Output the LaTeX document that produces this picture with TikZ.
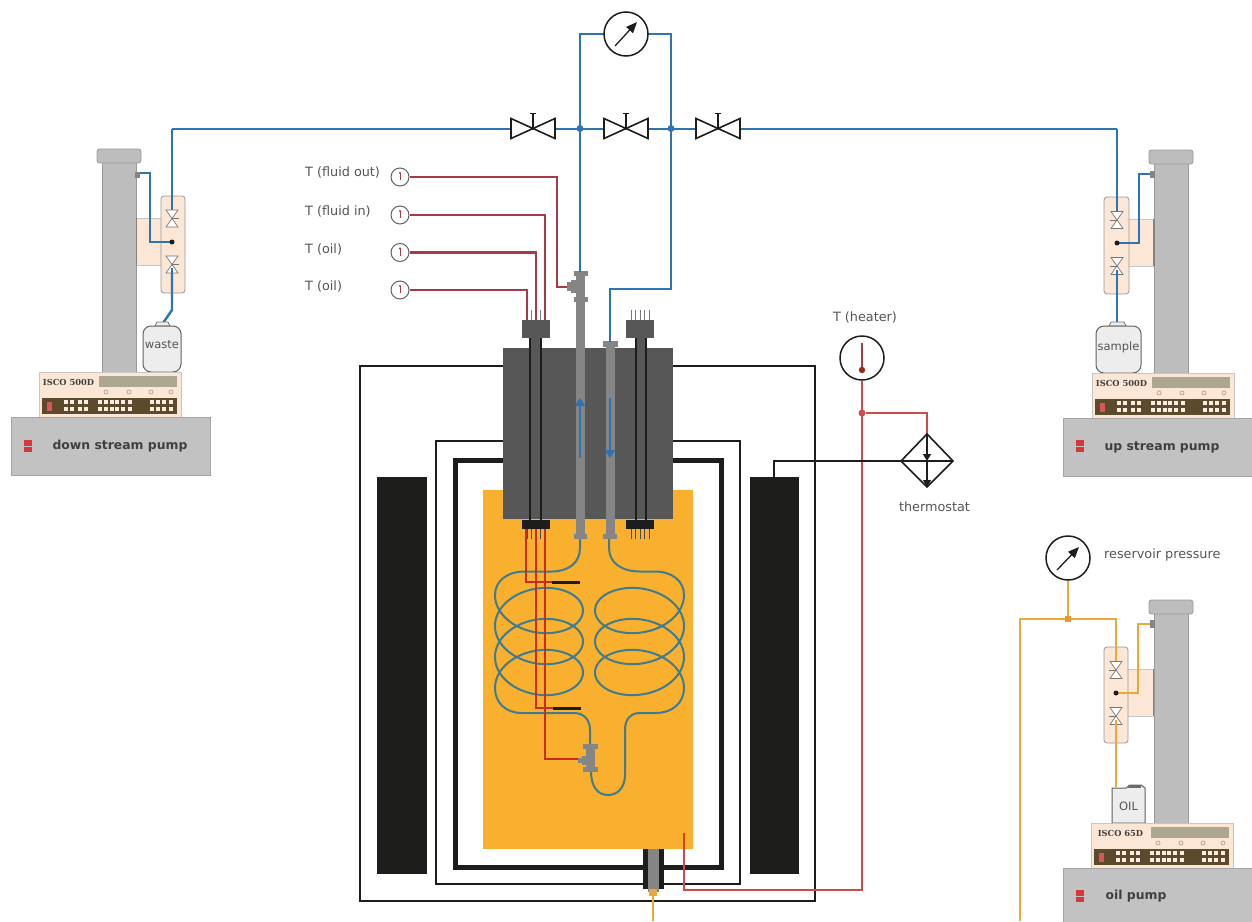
\documentclass[tikz,border=0pt]{standalone}
\usepackage{fontspec}
\setmainfont{DejaVu Sans}
\newfontfamily\iscofont{DejaVu Serif}
\usetikzlibrary{arrows.meta}
\definecolor{tubeblue}{HTML}{2F74AE}
\definecolor{coilblue}{HTML}{3F7C8F}
\definecolor{wirered}{HTML}{A83A48}
\definecolor{hotred}{HTML}{C62F20}
\definecolor{heatred}{HTML}{CF4B4B}
\definecolor{markred}{HTML}{D2383C}
\definecolor{oilfill}{HTML}{F9B02F}
\definecolor{oilline}{HTML}{E9A93A}
\definecolor{ink}{HTML}{1D1D1B}
\definecolor{blockgrey}{HTML}{575757}
\definecolor{tubegrey}{HTML}{858585}
\definecolor{basegrey}{HTML}{C2C2C2}
\definecolor{columngrey}{HTML}{BDBDBD}
\definecolor{panelfill}{HTML}{FCE6D6}
\definecolor{stripfill}{HTML}{5C4A2C}
\definecolor{displayfill}{HTML}{ADA792}
\definecolor{labelgrey}{HTML}{555555}
\tikzset{
  lbl/.style={text=labelgrey,font=\fontsize{12.8}{14}\selectfont,inner sep=0pt},
  pumplbl/.style={text=ink!85,font=\fontsize{12.4}{14}\selectfont\bfseries,inner sep=0pt},
  tanklbl/.style={inner sep=0pt,text=labelgrey,font=\fontsize{11.5}{13}\selectfont},
  bluepipe/.style={draw=tubeblue,line width=2.4pt,line join=miter},
  oilpipe/.style={draw=oilline,line width=2.4pt},
  redwire/.style={draw=wirered,line width=2.2pt},
  hotwire/.style={draw=hotred,line width=2pt},
  heatwire/.style={draw=heatred,line width=1.4pt},
  blackwire/.style={draw=ink,line width=1.6pt},
  coil/.style={draw=coilblue,line width=2pt},
  gaugering/.style={draw=ink,line width=1.5pt,fill=white,circle,minimum size=44pt,inner sep=0pt},
  sensorring/.style={draw=ink!70,line width=1pt,fill=white,circle,minimum size=18pt,inner sep=0pt},
  junction/.style={circle,fill=#1,inner sep=0pt,minimum size=7pt},
  framebox/.style={draw=ink,fill=none}
}
\newcommand{\bigvalve}[2]{%
  \coordinate (#1) at (#2);
  \begin{scope}[shift={(#2)}]
  \draw[ink,line width=1.6pt,fill=white,line join=miter] (-22,-10)--(22,10)--(22,-10)--(-22,10)--cycle;
  \draw[ink,line width=1.6pt] (0,0)--(0,-15);
  \draw[ink,line width=1.8pt] (-3,-15)--(3,-15);
  \end{scope}}
\newcommand{\smallvalve}[2]{%
  \begin{scope}[shift={(#1)}]
  \draw[labelgrey!80,line width=.7pt,fill=white] (-6,-8.5)--(6,-8.5)--(-6,8.5)--(6,8.5)--cycle;
  \draw[labelgrey!80,line width=.7pt] (0,0)--(#2*7,0);
  \end{scope}}
\newcommand{\iscopanel}[2]{%
  \begin{scope}[shift={(#1)}]
  \fill[panelfill] (0,0) rectangle (142,45);
  \draw[ink!25,line width=.7pt] (0,0) rectangle (142,45);
  \fill[displayfill] (60,4) rectangle (138,15);
  \node[inner sep=0pt,text=ink!85,font=\iscofont\fontsize{8.3}{9}\selectfont\bfseries] at (29.5,10) {#2};
  \foreach \px in {67,90,112,132}{\draw[displayfill,line width=.7pt] (\px,20) circle (2pt);}
  \fill[stripfill] (3,26) rectangle (138,42);
  \fill[markred!85] (8,30) rectangle (13,39);
  \foreach \px in {27,33,41,47,61,67,73,78,84,91,113,119,125,132}{
    \fill[panelfill!70!white] (\px-1.7,28) rectangle (\px+1.7,32);
    \fill[panelfill!70!white] (\px-1.7,35) rectangle (\px+1.7,39);}
  \end{scope}}
\newcommand{\pumpcolumn}[3]{%
  \draw[ink!45,line width=.8pt,fill=columngrey] (#1,#2+13) rectangle (#1+34,#3);
  \draw[ink!45,line width=.8pt,fill=columngrey,rounded corners=2.5pt] (#1-5,#2) rectangle (#1+39,#2+14);}
\newcommand{\redmark}[1]{\fill[markred] ([shift={(-4,-6)}]#1) rectangle ([shift={(4,-.5)}]#1);
  \fill[markred] ([shift={(-4,.5)}]#1) rectangle ([shift={(4,6)}]#1);}
\begin{document}
\begin{tikzpicture}[x=1pt,y=-1pt]
\useasboundingbox (0,0) rectangle (1252,921);
\fill[white] (0,0) rectangle (1252,921);

\coordinate (topL) at (580,34);
\coordinate (topR) at (671,34);
\coordinate (juncL) at (580,128.5);
\coordinate (juncR) at (671,128.5);
\coordinate (dsTee) at (172,129);
\coordinate (usTee) at (1117,129);

% ---------- oven ----------
\draw[framebox,line width=2.7pt] (360,366) rectangle (815,901);
\draw[framebox,line width=2.7pt] (436,441) rectangle (740,884);
\draw[framebox,line width=5pt] (455,460) rectangle (721,867);
\fill[ink] (377,477) rectangle (427,874);
\fill[ink] (750,477) rectangle (799,874);
\fill[oilfill] (483,490) rectangle (693,849);
\fill[blockgrey] (503,348) rectangle (673,519);

% bottom feed-through
\coordinate (feed) at (653,893);
\fill[ink] (643,849) rectangle (664,889);
\fill[tubegrey] (648,849) rectangle (659,892);
\fill[oilline] (649,889) rectangle (657,896);
\draw[oilpipe] (feed) -- (653,921);

% ---------- coils ----------
\coordinate (coilLa) at (580,538);
\coordinate (coilRa) at (609,538);
\coordinate (teeTop) at (590,745);
\coordinate (teeBot) at (591,771);
\draw[coil] plot[domain=0:1080,samples=181,smooth] ({539-44*cos(\x)},{595+\x/360*31+30*sin(\x)});
\draw[coil] plot[domain=0:1080,samples=181,smooth] ({639.5+44.5*cos(\x)},{595+\x/360*31+30*sin(\x)});
\draw[coil] (coilLa) -- (580,548) .. controls (580,563) and (568,571.5) .. (552,571.5) -- (525,571.5)
   .. controls (507,571.5) and (495,581) .. (495,595);
\draw[coil] (495,688) .. controls (495,703) and (506,713) .. (522,713) -- (574,713)
   .. controls (584,713) and (590,720) .. (590,730) -- (teeTop);
\draw[coil] (coilRa) -- (609,548) .. controls (609,563) and (622,571.5) .. (640,571.5) -- (655,571.5)
   .. controls (672,571.5) and (684,581) .. (684,595);
\draw[coil] (684,688) .. controls (684,703) and (672,713) .. (656,713) -- (640,713)
   .. controls (630,713) and (625,720) .. (625,730) -- (625,775)
   .. controls (625,787) and (618,795) .. (608,795)
   .. controls (598,795) and (591,787) .. (teeBot);

% ---------- block fittings ----------
\fill[blockgrey] (522,320) rectangle (550,338);
\fill[blockgrey] (626,320) rectangle (654,338);
\fill[blockgrey] (530,338) rectangle (541,348);
\fill[blockgrey] (636,338) rectangle (646,348);
\foreach \sx in {530,541,636,646}{\draw[ink,line width=1.6pt] (\sx,338) -- (\sx,520);}
\fill[ink] (522,520) rectangle (550,529);
\fill[ink] (626,520) rectangle (654,529);
\foreach \px in {527,531.5,536,540.5,545}{\draw[ink!80,line width=1pt] (\px,529) -- (\px,539);\draw[blockgrey!80,line width=1pt] (\px,310) -- (\px,320);}
\foreach \px in {631,635.5,640,644.5,649}{\draw[ink!80,line width=1pt] (\px,529) -- (\px,539);\draw[blockgrey!80,line width=1pt] (\px,310) -- (\px,320);}

% ---------- grey tubes ----------
\fill[tubegrey] (576,272) rectangle (585,537);
\fill[tubegrey] (574,271) rectangle (588,276);
\fill[tubegrey] (574,297) rectangle (588,302);
\fill[tubegrey] (571,280) rectangle (577,293);
\fill[tubegrey] (567,282) rectangle (573,291);
\fill[tubegrey] (574,534) rectangle (587,539);
\fill[tubegrey] (606,342) rectangle (615,537);
\fill[tubegrey] (603,341) rectangle (618,347);
\fill[tubegrey] (603,534) rectangle (617,539);
\fill[tubegrey] (586,744) rectangle (595,771);
\fill[tubegrey] (583,744) rectangle (598,749);
\fill[tubegrey] (583,767) rectangle (598,772);
\fill[tubegrey] (582,756) rectangle (588,765);
\fill[tubegrey] (578,758) rectangle (584,763);
\draw[-{Triangle[width=10pt,length=8pt]},draw=tubeblue,line width=2.8pt] (580,458) -- (580,398);
\draw[-{Triangle[width=10pt,length=8pt]},draw=tubeblue,line width=2.8pt] (610,398) -- (610,458);

% ---------- thermocouple wires ----------
\draw[hotwire] (526,529) -- (526,582) -- (553,582);
\draw[hotwire] (536,529) -- (536,708) -- (554,708);
\draw[hotwire] (545,529) -- (545,759) -- (578,759);
\draw[ink,line width=3pt] (552,582.5) -- (580,582.5);
\draw[ink,line width=3pt] (553,708) -- (581,708);

% ---------- top pipe work ----------
\draw[bluepipe] (dsTee) -- (usTee);
\draw[bluepipe] (580,272) -- (topL) -- (604,34);
\draw[bluepipe] (648,34) -- (topR) -- (671,289) -- (610,289) -- (610,342);
\node[junction=tubeblue] (jL) at (juncL) {};
\node[junction=tubeblue] (jR) at (juncR) {};
\bigvalve{vA}{533,128.5}
\bigvalve{vB}{626,128.5}
\bigvalve{vC}{718,128.5}
\node[gaugering] (dp) at (626,34) {};
\draw[ink,line width=1.3pt,-{Triangle[width=9pt,length=11pt]}] (615,46) -- (637,22);

% ---------- sensors ----------
\node[sensorring] (s1) at (400,177) {};
\node[sensorring] (s2) at (400,215) {};
\node[sensorring] (s3) at (400,252.5) {};
\node[sensorring] (s4) at (400,290) {};
\foreach \sn in {s1,s2,s3,s4}{
  \draw[wirered,line width=.9pt] ([yshift=-3pt]\sn.center) -- ([yshift=4pt]\sn.center);
  \fill[wirered] ([yshift=4pt]\sn.center) circle (1.2pt);}
\coordinate (p1) at (567,287);
\coordinate (p2) at (545,320);
\coordinate (p3) at (536,320);
\coordinate (p4) at (527,320);
\draw[redwire] (s1) -- (557,177) -- (557,287) -- (p1);
\draw[redwire] (s2) -- (545,215) -- (p2);
\draw[redwire] (s3) -- (536,252.5) -- (p3);
\draw[redwire] (s4) -- (527,290) -- (p4);
\node[lbl,anchor=west] (l1) at (305,172.5) {T (fluid out)};
\node[lbl,anchor=west] (l2) at (305,211.5) {T (fluid in)};
\node[lbl,anchor=west] (l3) at (305,249.5) {T (oil)};
\node[lbl,anchor=west] (l4) at (305,286.5) {T (oil)};

% ---------- heater loop ----------
\node[gaugering] (theat) at (862,358) {};
\draw[wirered,line width=1.3pt] (862,343) -- (862,370);
\fill[hotred!80!black] (862,370) circle (3.2pt);
\coordinate (hot) at (684,833);
\node[junction=heatred] (jH) at (862,413) {};
\coordinate (thTop) at (927,434);
\coordinate (thBot) at (927,487);
\coordinate (thR) at (953,461);
\coordinate (thL) at (901,461);
\coordinate (hA) at (774,477);
\draw[draw=hotred!85!oilfill,line width=1.4pt] (hot) -- (684,849);
\draw[heatwire] (684,849) -- (684,890) -- (862,890) -- (theat);
\draw[heatwire] (jH) -- (927,413) -- (thTop);
\draw[blackwire] (hA) -- (774,461) -- (thR);
\draw[ink,line width=1.6pt,line join=miter] (thTop) -- (thR) -- (thBot) -- (thL) -- cycle;
\draw[ink,line width=1.4pt,-{Triangle[width=8pt,length=7pt]}] (thTop) -- (927,461);
\draw[ink,line width=1.4pt,-{Triangle[width=8pt,length=7pt]}] (927,461) -- (thBot);
\node[lbl,anchor=center] (lh) at (865,317.5) {T (heater)};
\node[lbl,anchor=center] (lt) at (934.5,507) {thermostat};

% ---------- down stream pump ----------
\fill[panelfill] (136,218) rectangle (161,265);
\draw[ink!25,line width=.6pt] (136,218) -- (161,218) (136,265) -- (161,265);
\pumpcolumn{102}{149}{372}
\draw[ink!55,line width=1.2pt] (136.5,218) -- (136.5,265);
\fill[tubegrey] (135,172) rectangle (140,178);
\draw[ink!45,line width=.8pt,fill=panelfill,rounded corners=3pt] (161,196) rectangle (185,293);
\coordinate (dA) at (172,242);
\coordinate (dB) at (140,173);
\coordinate (dC) at (172,270);
\coordinate (dD) at (163,323);
\draw[bluepipe] (dsTee) -- (172,212);
\draw[bluepipe] (dB) -- (150,173) -- (150,242) -- (dA);
\draw[bluepipe] (dC) -- (172,310) -- (dD);
\smallvalve{172,218.5}{1}
\smallvalve{172,264.5}{1}
\draw[bluepipe] (172,268) -- (172,279);
\fill[ink] (dA) circle (2.5pt);
\draw[ink!60,line width=.8pt,fill=ink!8] (155,326) -- (157,322) -- (168,322) -- (170,326) -- cycle;
\draw[ink!70,line width=1pt,fill=ink!8,rounded corners=8pt] (143,326) rectangle (181,372);
\node[tanklbl] (wasteL) at (162,345) {waste};
\iscopanel{39,372}{ISCO 500D}
\draw[ink!40,line width=.8pt,fill=basegrey] (11,417) rectangle (210,475);
\redmark{28,446}
\node[pumplbl] (dsL) at (120,446.5) {down stream pump};

% ---------- up stream pump ----------
\fill[panelfill] (1129,219) rectangle (1154,266);
\draw[ink!25,line width=.6pt] (1129,219) -- (1154,219) (1129,266) -- (1154,266);
\pumpcolumn{1154}{150}{373}
\draw[ink!55,line width=1.2pt] (1154,219) -- (1154,266);
\fill[tubegrey] (1150,171) rectangle (1155,178);
\draw[ink!45,line width=.8pt,fill=panelfill,rounded corners=3pt] (1104,197) rectangle (1129,294);
\coordinate (uA) at (1117,243);
\coordinate (uB) at (1150,174);
\coordinate (uC) at (1117,326);
\draw[bluepipe] (usTee) -- (1117,212);
\draw[bluepipe] (uB) -- (1139,174) -- (1139,243) -- (uA);
\draw[bluepipe] (1117,272) -- (uC);
\smallvalve{1117,220}{-1}
\smallvalve{1117,266}{-1}
\draw[bluepipe] (1117,270) -- (1117,280);
\fill[ink] (uA) circle (2.5pt);
\draw[ink!60,line width=.8pt,fill=ink!8] (1109,326) -- (1111,322) -- (1124,322) -- (1126,326) -- cycle;
\draw[ink!70,line width=1pt,fill=ink!8,rounded corners=8pt] (1096,326) rectangle (1141,373);
\node[tanklbl] (sampleL) at (1118.5,347) {sample};
\iscopanel{1092,373}{ISCO 500D}
\draw[ink!40,line width=.8pt,fill=basegrey] (1063,418) rectangle (1260,476);
\redmark{1080,446}
\node[pumplbl] (usL) at (1162,447) {up stream pump};

% ---------- oil pump ----------
\fill[panelfill] (1128,669) rectangle (1153,716);
\draw[ink!25,line width=.6pt] (1128,669) -- (1153,669) (1128,716) -- (1153,716);
\pumpcolumn{1154}{600}{823}
\draw[ink!55,line width=1.2pt] (1153.5,669) -- (1153.5,716);
\fill[tubegrey] (1150,620) rectangle (1155,628);
\draw[ink!45,line width=.8pt,fill=panelfill,rounded corners=3pt] (1104,647) rectangle (1128,743);
\node[gaugering] (resG) at (1068,558) {};
\draw[ink,line width=1.3pt,-{Triangle[width=9pt,length=11pt]}] (1057,570) -- (1079,547);
\node[lbl,anchor=west] (resL) at (1104,555) {reservoir pressure};
\coordinate (oA) at (1116,693);
\coordinate (oB) at (1150,624);
\coordinate (oC) at (1116,787);
\coordinate (oD) at (1020,921);
\draw[oilpipe] (oD) -- (1020,619) -- (1116,619) -- (1116,662);
\draw[oilpipe] (resG) -- (1068,619);
\fill[oilline!90!red] (1065,616) rectangle (1071,622);
\draw[oilpipe] (oB) -- (1138,624) -- (1138,693) -- (oA);
\draw[oilpipe] (1116,722) -- (oC);
\smallvalve{1116,670}{-1}
\smallvalve{1116,716}{-1}
\draw[oilpipe] (1116,720) -- (1116,730);
\fill[ink] (oA) circle (2.5pt);
\draw[ink!70,line width=1pt,fill=ink!8] (1112,823) -- (1112,788) -- (1126,788) -- (1130,785) -- (1141,785) -- (1145,788) -- (1145,823) -- cycle;
\fill[ink!65] (1128,785) rectangle (1141,788);
\node[tanklbl] (oilL) at (1128.5,806) {OIL};
\iscopanel{1091,823}{ISCO 65D}
\draw[ink!40,line width=.8pt,fill=basegrey] (1063,868) rectangle (1260,930);
\redmark{1080,896}
\node[pumplbl] (oilP) at (1136,896) {oil pump};
\end{tikzpicture}
\end{document}
